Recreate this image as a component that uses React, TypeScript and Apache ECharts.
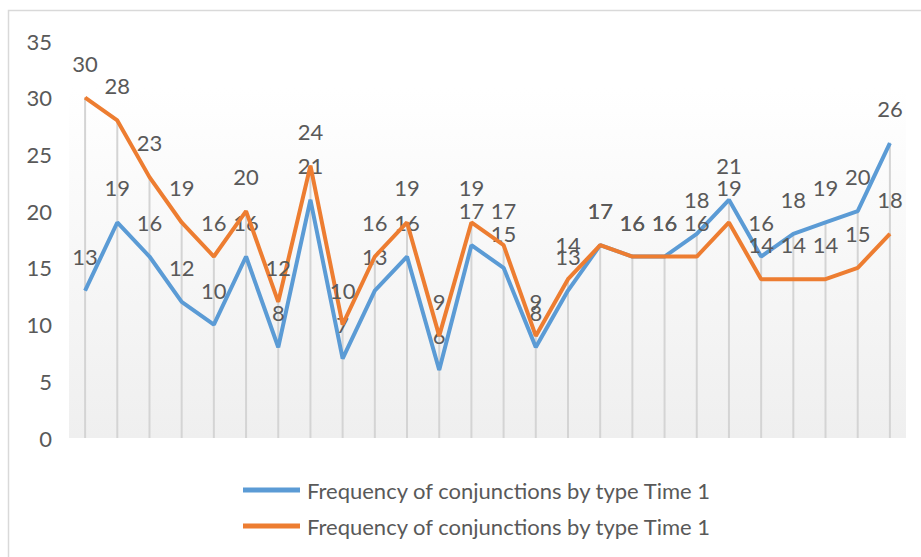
import React, { useEffect, useRef } from "react";
import * as echarts from "echarts";

const categories = ["1","2","3","4","5","6","7","8","9","10","11","12","13","14","15","16","17","18","19","20","21","22","23","24","25","26"];
const blueValues = [13, 19, 16, 12, 10, 16, 8, 21, 7, 13, 16, 6, 17, 15, 8, 13, 17, 16, 16, 18, 21, 16, 18, 19, 20, 26];
const orangeValues = [30, 28, 23, 19, 16, 20, 12, 24, 10, 16, 19, 9, 19, 17, 9, 14, 17, 16, 16, 16, 19, 14, 14, 14, 15, 18];
const seriesLabel = "Frequency of conjunctions by type Time 1";
const yTicks = { min: 0, max: 35, interval: 5 };

const FONT = "Lato";
const TEXT = "#595959";
const FS = 22;

export default function App() {
  const ref = useRef<HTMLDivElement>(null);
  useEffect(() => {
    if (!ref.current) return;
    const chart = echarts.init(ref.current, null, { renderer: "svg" });
    const dropValues = blueValues.map((v, i) => Math.max(v, orangeValues[i]));
    chart.setOption({
      animation: false,
      backgroundColor: "#ffffff",
      textStyle: { fontFamily: FONT },
      graphic: [
        {
          type: "rect",
          z: -10,
          silent: true,
          shape: { x: 8.5, y: 10.5, width: 930, height: 560 },
          style: { fill: "none", stroke: "#d9d9d9", lineWidth: 1.5 },
        },
        {
          type: "rect",
          z: -5,
          silent: true,
          shape: { x: 69, y: 88, width: 837, height: 350 },
          style: {
            fill: new echarts.graphic.LinearGradient(0, 0, 0, 1, [
              { offset: 0, color: "#ffffff" },
              { offset: 1, color: "#efefef" },
            ]),
          },
        },
      ],
      grid: { left: 69, right: 15, top: 41, bottom: 119, containLabel: false },
      legend: {
        data: ["A", "B"],
        orient: "vertical",
        left: 243,
        top: 479,
        padding: 0,
        itemWidth: 57,
        itemHeight: 5,
        itemGap: 14,
        icon: "rect",
        formatter: () => seriesLabel,
        textStyle: { color: TEXT, fontSize: FS, fontFamily: FONT, padding: [0, 0, 0, 2] },
      },
      xAxis: {
        type: "category",
        data: categories,
        boundaryGap: true,
        axisLine: { show: false },
        axisTick: { show: false },
        axisLabel: { show: false },
        splitLine: { show: false },
      },
      yAxis: {
        type: "value",
        min: yTicks.min,
        max: yTicks.max,
        interval: yTicks.interval,
        axisLine: { show: false },
        axisTick: { show: false },
        splitLine: { show: false },
        axisLabel: { color: TEXT, fontSize: FS, fontFamily: FONT, margin: 17 },
      },
      series: [
        {
          name: "drop",
          type: "bar",
          data: dropValues,
          barWidth: 2,
          silent: true,
          z: 1,
          itemStyle: { color: "#d4d4d4" },
        },
        {
          name: "A",
          type: "line",
          data: blueValues,
          symbol: "circle",
          symbolSize: 1,
          z: 3,
          lineStyle: { color: "#5B9BD5", width: 4 },
          itemStyle: { color: "#5B9BD5" },
          label: { show: true, position: "top", distance: 23, color: TEXT, fontSize: FS, fontFamily: FONT },
        },
        {
          name: "B",
          type: "line",
          data: orangeValues,
          symbol: "circle",
          symbolSize: 1,
          z: 4,
          lineStyle: { color: "#ED7D31", width: 4 },
          itemStyle: { color: "#ED7D31" },
          label: { show: true, position: "top", distance: 23, color: TEXT, fontSize: FS, fontFamily: FONT },
        },
      ],
    });
    return () => chart.dispose();
  }, []);
  return (
    <div
      ref={ref}
      style={{ position: "absolute", left: 0, top: 0, width: 921, height: 557 }}
    />
  );
}
